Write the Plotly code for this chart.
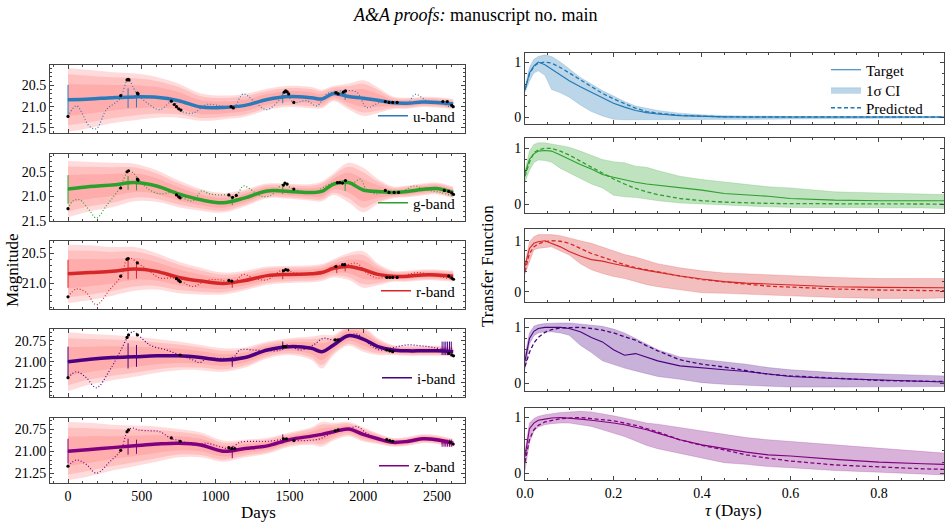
import plotly.graph_objects as go

W, H = 951, 526
SERIF = "Liberation Serif"

# ---------------- light-curve panels (left) ----------------
knot_days = [0, 150, 300, 450, 600, 750, 900, 1050, 1200, 1350, 1500, 1650,
             1720, 1800, 1900, 2000, 2100, 2200, 2300, 2400, 2500, 2610]

u_mean = [20.84, 20.82, 20.79, 20.77, 20.78, 20.86, 21.01, 21.02, 20.97, 20.83, 20.76, 20.79,
          20.82, 20.69, 20.76, 20.80, 20.85, 20.91, 20.92, 20.89, 20.90, 20.94]
u_sig = [0.75, 0.68, 0.60, 0.55, 0.48, 0.40, 0.32, 0.28, 0.27, 0.25, 0.25, 0.25,
         0.22, 0.18, 0.30, 0.42, 0.30, 0.15, 0.13, 0.12, 0.12, 0.12]
g_mean = [20.85, 20.80, 20.77, 20.72, 20.79, 20.95, 21.07, 21.13, 21.03, 20.89, 20.90, 20.92,
          20.90, 20.75, 20.72, 20.87, 20.90, 20.92, 20.90, 20.86, 20.84, 20.92]
g_sig = [0.57, 0.50, 0.45, 0.38, 0.32, 0.27, 0.22, 0.20, 0.17, 0.15, 0.15, 0.17,
         0.20, 0.22, 0.40, 0.45, 0.25, 0.12, 0.12, 0.12, 0.12, 0.12]
r_mean = [20.84, 20.82, 20.80, 20.76, 20.80, 20.90, 20.96, 21.00, 20.95, 20.87, 20.85, 20.84,
          20.82, 20.75, 20.72, 20.77, 20.85, 20.88, 20.88, 20.86, 20.86, 20.88]
r_sig = [0.48, 0.45, 0.40, 0.36, 0.30, 0.26, 0.22, 0.18, 0.16, 0.15, 0.14, 0.14,
         0.14, 0.15, 0.22, 0.30, 0.18, 0.09, 0.09, 0.09, 0.09, 0.09]
i_mean = [21.00, 20.97, 20.95, 20.94, 20.93, 20.93, 20.95, 20.98, 20.95, 20.86, 20.82, 20.84,
          20.88, 20.80, 20.69, 20.73, 20.82, 20.86, 20.87, 20.87, 20.87, 20.88]
i_sig = [0.35, 0.30, 0.27, 0.24, 0.20, 0.17, 0.15, 0.14, 0.12, 0.10, 0.10, 0.14,
         0.20, 0.12, 0.12, 0.15, 0.10, 0.06, 0.06, 0.06, 0.06, 0.06]
z_mean = [21.00, 20.98, 20.96, 20.94, 20.92, 20.91, 20.93, 21.00, 20.97, 20.94, 20.87, 20.83,
          20.81, 20.78, 20.75, 20.81, 20.86, 20.90, 20.89, 20.86, 20.87, 20.91]
z_sig = [0.33, 0.30, 0.26, 0.23, 0.20, 0.16, 0.14, 0.12, 0.10, 0.09, 0.08, 0.10,
         0.14, 0.10, 0.08, 0.08, 0.06, 0.05, 0.05, 0.05, 0.05, 0.05]

u_true_days = [0, 57, 147, 192, 260, 350, 407, 464, 532, 622, 712, 758, 848, 939, 1029, 1120, 1188,
               1256, 1346, 1437, 1470, 1527, 1618, 1686, 1753, 1799, 1889, 1957, 2025, 2115, 2206,
               2296, 2353, 2432, 2523, 2590]
u_true_mag = [21.23, 20.98, 21.47, 21.52, 21.07, 20.82, 20.37, 20.68, 20.90, 21.07, 20.86, 21.09,
              21.15, 20.95, 20.98, 21.02, 20.70, 20.86, 21.07, 20.82, 20.63, 20.90, 20.86, 20.98,
              20.70, 20.66, 20.62, 20.66, 21.02, 20.90, 20.90, 20.94, 20.71, 20.86, 20.90, 21.02]
g_true_days = [0, 34, 79, 147, 192, 260, 350, 407, 441, 475, 543, 622, 712, 769, 848, 905, 961,
               1029, 1097, 1120, 1188, 1233, 1301, 1369, 1459, 1505, 1572, 1663, 1731, 1799, 1867,
               1934, 1980, 2025, 2093, 2160, 2251, 2342, 2432, 2523, 2602]
g_true_mag = [21.25, 21.09, 21.07, 21.29, 21.44, 21.19, 20.83, 20.50, 20.52, 20.65, 20.85, 20.95,
              20.92, 21.02, 21.09, 20.89, 20.95, 20.97, 20.99, 21.12, 20.79, 20.85, 20.99, 20.99,
              20.75, 20.82, 20.89, 20.92, 20.82, 20.72, 20.69, 20.72, 20.65, 20.87, 20.95, 20.89,
              20.92, 20.79, 20.87, 20.92, 20.99]
r_true_days = [0, 57, 124, 192, 283, 362, 400, 430, 475, 532, 622, 712, 769, 848, 939, 1029, 1120,
               1188, 1256, 1346, 1459, 1527, 1640, 1731, 1799, 1889, 1957, 2025, 2093, 2160, 2251,
               2364, 2477, 2590]
r_true_mag = [21.22, 21.09, 21.15, 21.35, 21.10, 20.87, 20.60, 20.59, 20.67, 20.76, 20.91, 20.91,
              20.97, 21.05, 20.95, 20.94, 20.99, 20.85, 20.91, 20.94, 20.77, 20.82, 20.85, 20.83,
              20.72, 20.69, 20.67, 20.83, 20.91, 20.89, 20.89, 20.82, 20.87, 20.92]
i_true_days = [0, 57, 124, 192, 283, 350, 407, 441, 475, 554, 667, 758, 848, 894, 939, 1029, 1120,
               1165, 1256, 1346, 1437, 1482, 1572, 1663, 1731, 1799, 1889, 1957, 2047, 2115, 2206,
               2296, 2387, 2477, 2590]
i_true_mag = [21.19, 21.12, 21.19, 21.31, 21.10, 20.89, 20.70, 20.64, 20.68, 20.80, 20.86, 20.92,
              20.98, 21.01, 20.96, 20.96, 20.95, 20.86, 20.86, 20.87, 20.86, 20.80, 20.86, 20.80,
              20.72, 20.74, 20.70, 20.67, 20.80, 20.86, 20.83, 20.80, 20.81, 20.83, 20.88]
z_true_days = [0, 57, 124, 192, 283, 357, 407, 441, 475, 554, 622, 701, 758, 848, 939, 1029, 1097,
               1165, 1256, 1346, 1459, 1527, 1618, 1708, 1799, 1889, 1957, 2025, 2115, 2206, 2296,
               2387, 2477, 2590]
z_true_mag = [21.17, 21.10, 21.15, 21.25, 21.12, 20.99, 20.76, 20.74, 20.76, 20.77, 20.78, 20.86,
              20.88, 20.93, 20.91, 20.95, 20.97, 20.90, 20.89, 20.89, 20.87, 20.88, 20.88, 20.86,
              20.79, 20.76, 20.72, 20.80, 20.87, 20.89, 20.88, 20.86, 20.88, 20.91]

u_obs_days = [0, 357, 400, 408, 413, 470, 475, 700, 720, 735, 750, 765, 1105, 1120, 1465, 1475,
              1485, 1495, 1530, 1815, 1830, 1865, 1880, 2150, 2175, 2200, 2230, 2540, 2570, 2600, 2610]
u_obs_mag = [21.23, 20.74, 20.37, 20.36, 20.37, 20.68, 20.70, 20.87, 20.95, 21.00, 21.05, 21.08,
             21.00, 21.03, 20.66, 20.63, 20.65, 20.70, 20.90, 20.67, 20.70, 20.66, 20.63, 20.88,
             20.90, 20.90, 20.90, 20.88, 20.88, 20.97, 21.00]
g_obs_days = [0, 357, 400, 410, 470, 475, 735, 750, 760, 1090, 1115, 1140, 1460, 1470, 1485, 1530,
              1825, 1840, 1860, 1880, 2150, 2175, 2210, 2240, 2550, 2580, 2600, 2612]
g_obs_mag = [21.25, 20.83, 20.50, 20.48, 20.65, 20.67, 20.97, 21.01, 21.03, 20.97, 21.02, 20.98,
             20.77, 20.73, 20.75, 20.85, 20.72, 20.72, 20.73, 20.68, 20.88, 20.92, 20.92, 20.92,
             20.88, 20.90, 20.93, 20.96]
r_obs_days = [0, 357, 400, 408, 470, 735, 750, 760, 1090, 1110, 1460, 1475, 1490, 1815, 1860, 1875,
              2160, 2180, 2200, 2230, 2580, 2600, 2612]
r_obs_mag = [21.22, 20.88, 20.60, 20.59, 20.66, 20.92, 20.95, 20.97, 20.95, 20.96, 20.79, 20.77,
             20.78, 20.72, 20.69, 20.69, 20.90, 20.90, 20.90, 20.90, 20.88, 20.91, 20.93]
i_obs_days = [0, 400, 410, 470, 760, 1460, 1475, 1810, 1830, 2160, 2180, 2200, 2580, 2600, 2612]
i_obs_mag = [21.19, 20.71, 20.68, 20.68, 20.92, 20.82, 20.82, 20.74, 20.74, 20.86, 20.87, 20.88,
             20.90, 20.92, 20.93]
z_obs_days = [0, 357, 400, 410, 700, 760, 1090, 1110, 1130, 1460, 1480, 1530, 1810, 1830, 2160,
              2180, 2200, 2590, 2610]
z_obs_mag = [21.17, 20.99, 20.78, 20.76, 20.85, 20.89, 20.96, 20.97, 20.97, 20.86, 20.86, 20.88,
             20.77, 20.76, 20.87, 20.88, 20.89, 20.90, 20.92]

u_err_days = [0, 407, 464, 1455, 1878]
u_err_mag = [20.84, 20.80, 20.86, 20.80, 20.73]
u_err_half = [0.35, 0.23, 0.16, 0.12, 0.11]
g_err_days = [0, 407, 464, 1113, 1455, 1878]
g_err_mag = [20.86, 20.73, 20.75, 21.10, 20.87, 20.77]
g_err_half = [0.29, 0.14, 0.13, 0.08, 0.08, 0.12]
r_err_days = [0, 407, 464, 1113, 1455, 1821, 1878]
r_err_mag = [20.84, 20.77, 20.78, 21.02, 20.85, 20.76, 20.73]
r_err_half = [0.23, 0.16, 0.14, 0.05, 0.08, 0.07, 0.07]
i_err_days = [0, 407, 464, 1113, 1455, 2535, 2548, 2560, 2572, 2585, 2597]
i_err_mag = [21.00, 20.93, 20.93, 21.00, 20.81, 20.84, 20.84, 20.84, 20.84, 20.84, 20.84]
i_err_half = [0.18, 0.15, 0.13, 0.06, 0.05, 0.08, 0.08, 0.08, 0.08, 0.08, 0.08]
z_err_days = [0, 407, 464, 1113, 1455, 2535, 2548, 2560, 2572, 2585, 2597]
z_err_mag = [21.00, 20.95, 20.95, 21.01, 20.86, 20.91, 20.91, 20.91, 20.91, 20.91, 20.91]
z_err_half = [0.14, 0.09, 0.08, 0.07, 0.05, 0.04, 0.04, 0.04, 0.04, 0.04, 0.04]

band_labels = ["u-band", "g-band", "r-band", "i-band", "z-band"]
band_colors = ["#2b7bba", "#2ca02c", "#d62728", "#4b0082", "#800080"]
mag_ranges = [[21.62, 20.02], [21.5, 20.14], [21.42, 20.30], [21.42, 20.61], [21.36, 20.625]]
mag_dticks = [0.5, 0.5, 0.5, 0.25, 0.25]
mag_fmt = [".1f", ".1f", ".1f", ".2f", ".2f"]

# ---------------- transfer functions (right) ----------------
tau = [0, 0.01, 0.02, 0.03, 0.045, 0.06, 0.08, 0.1, 0.125, 0.15, 0.175, 0.2, 0.225, 0.25,
       0.275, 0.3, 0.35, 0.4, 0.45, 0.5, 0.55, 0.6, 0.7, 0.8, 0.9, 0.95]

u_target = [0.49, 0.80, 0.93, 1.00, 0.95, 0.87, 0.77, 0.66, 0.55, 0.45, 0.35, 0.25, 0.18, 0.12,
            0.08, 0.055, 0.025, 0.008, 0.003, 0, 0, 0, 0, 0, 0, 0]
u_pred = [0.50, 0.78, 0.92, 0.98, 1.00, 0.98, 0.90, 0.80, 0.67, 0.55, 0.43, 0.33, 0.24, 0.16,
          0.10, 0.07, 0.03, 0.01, 0.003, 0, 0, 0, 0, 0, 0, 0]
u_hi = [0.55, 0.90, 1.05, 1.10, 1.13, 1.10, 1.00, 0.87, 0.72, 0.60, 0.48, 0.38, 0.28, 0.20,
        0.16, 0.12, 0.07, 0.04, 0.025, 0.018, 0.012, 0.01, 0.008, 0.006, 0.005, 0.005]
u_lo = [0.45, 0.65, 0.80, 0.84, 0.76, 0.50, 0.44, 0.36, 0.22, 0.10, 0.02, -0.04, -0.05, -0.05,
        -0.045, -0.045, -0.05, -0.05, -0.05, -0.045, -0.04, -0.035, -0.03, -0.025, -0.02, -0.015]

g_target = [0.55, 0.80, 0.90, 0.95, 0.96, 0.95, 0.88, 0.80, 0.71, 0.63, 0.53, 0.48, 0.43, 0.39,
            0.36, 0.34, 0.30, 0.25, 0.19, 0.17, 0.14, 0.10, 0.07, 0.06, 0.06, 0.06]
g_pred = [0.50, 0.75, 0.92, 0.97, 1.00, 1.00, 0.95, 0.88, 0.77, 0.66, 0.55, 0.45, 0.36, 0.28,
          0.22, 0.17, 0.10, 0.06, 0.035, 0.02, 0.012, 0.008, 0.004, 0.002, 0.001, 0]
g_hi = [0.60, 0.95, 1.07, 1.10, 1.10, 1.08, 1.05, 1.02, 0.95, 0.87, 0.80, 0.76, 0.74, 0.68,
        0.66, 0.60, 0.50, 0.44, 0.40, 0.36, 0.31, 0.29, 0.22, 0.20, 0.18, 0.17]
g_lo = [0.40, 0.60, 0.74, 0.79, 0.78, 0.75, 0.64, 0.56, 0.46, 0.36, 0.29, 0.16, 0.13, 0.12,
        0.09, 0.06, 0.02, 0.0, -0.02, -0.04, -0.05, -0.06, -0.06, -0.07, -0.07, -0.08]

r_target = [0.50, 0.85, 0.95, 0.98, 1.00, 0.95, 0.88, 0.79, 0.70, 0.63, 0.60, 0.55, 0.50, 0.46,
            0.42, 0.38, 0.31, 0.25, 0.20, 0.17, 0.15, 0.13, 0.10, 0.087, 0.08, 0.08]
r_pred = [0.40, 0.75, 0.88, 0.94, 0.98, 1.00, 0.99, 0.95, 0.85, 0.75, 0.68, 0.60, 0.53, 0.47,
          0.43, 0.38, 0.31, 0.24, 0.19, 0.15, 0.11, 0.09, 0.055, 0.035, 0.022, 0.02]
r_hi = [0.55, 0.98, 1.08, 1.12, 1.12, 1.12, 1.10, 1.05, 1.00, 0.95, 0.88, 0.80, 0.73, 0.68,
        0.62, 0.55, 0.47, 0.41, 0.37, 0.35, 0.34, 0.32, 0.28, 0.26, 0.26, 0.26]
r_lo = [0.35, 0.60, 0.82, 0.85, 0.87, 0.88, 0.80, 0.72, 0.55, 0.43, 0.36, 0.30, 0.26, 0.20,
        0.14, 0.10, 0.04, -0.02, -0.03, -0.05, -0.07, -0.08, -0.11, -0.13, -0.13, -0.12]

i_target = [0.40, 0.80, 0.93, 0.98, 1.00, 1.00, 1.00, 0.98, 0.92, 0.82, 0.74, 0.60, 0.50, 0.53,
            0.47, 0.40, 0.31, 0.27, 0.24, 0.21, 0.17, 0.12, 0.085, 0.06, 0.04, 0.02]
i_pred = [0.30, 0.55, 0.72, 0.82, 0.91, 0.96, 0.99, 1.00, 1.00, 0.98, 0.95, 0.90, 0.84, 0.77,
          0.67, 0.58, 0.42, 0.34, 0.29, 0.23, 0.16, 0.13, 0.085, 0.05, 0.035, 0.03]
i_hi = [0.50, 0.90, 1.02, 1.05, 1.07, 1.08, 1.08, 1.08, 1.06, 1.05, 1.02, 0.97, 0.90, 0.80,
        0.70, 0.60, 0.47, 0.43, 0.38, 0.34, 0.28, 0.24, 0.19, 0.17, 0.14, 0.13]
i_lo = [0.25, 0.70, 0.85, 0.90, 0.92, 0.92, 0.90, 0.86, 0.68, 0.55, 0.40, 0.33, 0.27, 0.22,
        0.17, 0.12, 0.07, 0.01, -0.02, -0.04, -0.06, -0.07, -0.07, -0.07, -0.07, -0.06]

z_target = [0.30, 0.80, 0.90, 0.95, 0.97, 0.99, 1.00, 0.99, 0.97, 0.95, 0.93, 0.90, 0.87, 0.83,
            0.78, 0.72, 0.60, 0.51, 0.44, 0.38, 0.33, 0.31, 0.25, 0.20, 0.17, 0.16]
z_pred = [0.20, 0.60, 0.78, 0.86, 0.92, 0.95, 0.98, 0.99, 1.00, 0.98, 0.96, 0.94, 0.90, 0.86,
          0.80, 0.74, 0.60, 0.50, 0.42, 0.33, 0.27, 0.22, 0.15, 0.11, 0.08, 0.07]
z_hi = [0.40, 0.90, 0.98, 1.02, 1.05, 1.07, 1.09, 1.10, 1.11, 1.10, 1.07, 1.03, 0.99, 0.95,
        0.90, 0.88, 0.82, 0.76, 0.70, 0.64, 0.60, 0.57, 0.51, 0.45, 0.39, 0.36]
z_lo = [0.05, 0.55, 0.75, 0.83, 0.87, 0.89, 0.90, 0.90, 0.87, 0.84, 0.78, 0.72, 0.66, 0.58,
        0.50, 0.44, 0.36, 0.27, 0.19, 0.16, 0.12, 0.10, 0.05, 0.02, -0.01, -0.03]

tf_fills = ["rgba(31,119,180,0.30)", "rgba(44,160,44,0.30)", "rgba(214,39,40,0.30)",
            "rgba(75,0,130,0.30)", "rgba(128,0,128,0.30)"]
tf_colors = ["#1f77b4", "#2ca02c", "#d62728", "#4b0082", "#800080"]
tf_ranges = [[-0.127, 1.164], [-0.16, 1.185], [-0.2, 1.23], [-0.14, 1.15], [-0.12, 1.17]]

LC = {
    "u": (u_mean, u_sig, u_true_days, u_true_mag, u_obs_days, u_obs_mag, u_err_days, u_err_mag, u_err_half),
    "g": (g_mean, g_sig, g_true_days, g_true_mag, g_obs_days, g_obs_mag, g_err_days, g_err_mag, g_err_half),
    "r": (r_mean, r_sig, r_true_days, r_true_mag, r_obs_days, r_obs_mag, r_err_days, r_err_mag, r_err_half),
    "i": (i_mean, i_sig, i_true_days, i_true_mag, i_obs_days, i_obs_mag, i_err_days, i_err_mag, i_err_half),
    "z": (z_mean, z_sig, z_true_days, z_true_mag, z_obs_days, z_obs_mag, z_err_days, z_err_mag, z_err_half),
}
TF = {
    "u": (u_target, u_pred, u_hi, u_lo),
    "g": (g_target, g_pred, g_hi, g_lo),
    "r": (r_target, r_pred, r_hi, r_lo),
    "i": (i_target, i_pred, i_hi, i_lo),
    "z": (z_target, z_pred, z_hi, z_lo),
}

# ---------------- layout geometry (pixels) ----------------
left_x = (50, 465)
right_x = (525, 944)
left_y = [(65, 133), (154, 221), (241, 309), (329, 397), (418, 483)]
right_y = [(53, 124), (138, 213), (229, 302), (319, 391), (408, 480)]
legend_yc = [116, 203, 291, 378, 466]
tf_legend_yc = {"legend": 70, "legend7": 90, "legend8": 108}

def xdom(a):
    return [a[0] / W, a[1] / W]

def ydom(a):
    return [1 - a[1] / H, 1 - a[0] / H]

AX = dict(showline=True, linecolor="#444", linewidth=1, mirror="allticks", ticks="inside",
          ticklen=4, tickwidth=1, tickcolor="#444", showgrid=False, zeroline=False, automargin=False,
          tickfont=dict(family=SERIF, size=14, color="black"))

fig = go.Figure()
layout = {}
band_fracs = [1.0, 0.8, 0.5]
pink = "rgba(255,110,110,0.25)"

for k, b in enumerate(["u", "g", "r", "i", "z"]):
    n = k + 1
    xa, ya = ("x" if n == 1 else f"x{n}"), ("y" if n == 1 else f"y{n}")
    mean, sig, td, tm, od, om, ed, em, eh = LC[b]
    col = band_colors[k]
    for f in band_fracs:
        hi = [m - f * s for m, s in zip(mean, sig)]
        lo = [m + f * s for m, s in zip(mean, sig)]
        fig.add_trace(go.Scatter(x=knot_days, y=hi, mode="lines", line=dict(width=0, shape="spline"),
                                 xaxis=xa, yaxis=ya, showlegend=False, hoverinfo="skip"))
        fig.add_trace(go.Scatter(x=knot_days, y=lo, mode="lines", line=dict(width=0, shape="spline"),
                                 fill="tonexty", fillcolor=pink, xaxis=xa, yaxis=ya,
                                 showlegend=False, hoverinfo="skip"))
    fig.add_trace(go.Scatter(x=td, y=tm, mode="lines",
                             line=dict(color=col, width=1.2, dash="1px,2px", shape="spline"),
                             xaxis=xa, yaxis=ya, showlegend=False))
    fig.add_trace(go.Scatter(x=knot_days, y=mean, mode="lines", line=dict(color=col, width=3.5, shape="spline"),
                             xaxis=xa, yaxis=ya, showlegend=False))
    fig.add_trace(go.Scatter(x=ed, y=em, mode="markers", marker=dict(size=1, color=col),
                             error_y=dict(type="data", array=eh, visible=True, color=col, thickness=1, width=0),
                             xaxis=xa, yaxis=ya, showlegend=False))
    fig.add_trace(go.Scatter(x=od, y=om, mode="markers", marker=dict(size=3.2, color="black"),
                             xaxis=xa, yaxis=ya, showlegend=False))
    lg = f"legend{n + 1}"
    fig.add_trace(go.Scatter(x=[None], y=[None], mode="lines", line=dict(color=col, width=1.5),
                             name=band_labels[k], xaxis=xa, yaxis=ya, legend=lg, showlegend=True))
    layout[lg] = dict(x=(left_x[1] - 4) / W, xanchor="right", y=1 - legend_yc[k] / H, yanchor="middle",
                      bgcolor="rgba(0,0,0,0)", font=dict(family=SERIF, size=15, color="black"),
                      itemwidth=30, tracegroupgap=0)

    xkey = "xaxis" if n == 1 else f"xaxis{n}"
    ykey = "yaxis" if n == 1 else f"yaxis{n}"
    layout[xkey] = dict(AX, domain=xdom(left_x), anchor=ya, range=[-122, 2690], tick0=0, dtick=500,
                        showticklabels=(n == 5), minor=dict(ticks="inside", ticklen=2, tickcolor="#444", dtick=100))
    layout[ykey] = dict(AX, domain=ydom(left_y[k]), anchor=xa, range=mag_ranges[k], tick0=20, dtick=mag_dticks[k],
                        tickformat=mag_fmt[k],
                        minor=dict(ticks="inside", ticklen=2, tickcolor="#444", dtick=mag_dticks[k] / 5))

for k, b in enumerate(["u", "g", "r", "i", "z"]):
    n = k + 6
    xa, ya = f"x{n}", f"y{n}"
    tgt, prd, hi, lo = TF[b]
    col = tf_colors[k]
    show = (k == 0)
    fig.add_trace(go.Scatter(x=tau, y=hi, mode="lines", line=dict(width=0.6, color=tf_fills[k]),
                             xaxis=xa, yaxis=ya, showlegend=False, hoverinfo="skip"))
    fig.add_trace(go.Scatter(x=tau, y=lo, mode="lines", line=dict(width=0.6, color=tf_fills[k]),
                             fill="tonexty", fillcolor=tf_fills[k], name="1σ CI", legend="legend7",
                             xaxis=xa, yaxis=ya, showlegend=show))
    fig.add_trace(go.Scatter(x=tau, y=tgt, mode="lines", line=dict(color=col, width=1.1),
                             name="Target", legend="legend", xaxis=xa, yaxis=ya, showlegend=show))
    fig.add_trace(go.Scatter(x=tau, y=prd, mode="lines", line=dict(color=col, width=1.3, dash="4px,2.5px"),
                             name="Predicted", legend="legend8", xaxis=xa, yaxis=ya, showlegend=show))
    layout[f"xaxis{n}"] = dict(AX, domain=xdom(right_x), anchor=ya, range=[0, 0.947], tick0=0, dtick=0.2,
                               tickformat=".1f", showticklabels=(n == 10),
                               minor=dict(ticks="inside", ticklen=2, tickcolor="#444", dtick=0.05))
    layout[f"yaxis{n}"] = dict(AX, domain=ydom(right_y[k]), anchor=xa, range=tf_ranges[k], tickvals=[0, 1],
                               ticktext=["0", "1"],
                               minor=dict(ticks="inside", ticklen=2, tickcolor="#444", tickvals=[0.2, 0.4, 0.6, 0.8]))

for lg, yc in tf_legend_yc.items():
    layout[lg] = dict(x=826 / W, xanchor="left", y=1 - yc / H, yanchor="middle",
                      bgcolor="rgba(0,0,0,0)", font=dict(family=SERIF, size=15, color="black"),
                      itemwidth=30, tracegroupgap=0)

ann = [
    dict(text="<i>A&amp;A proofs:</i> manuscript no. main", x=475 / W, y=1 - 15 / H, xref="paper", yref="paper",
         showarrow=False, font=dict(family=SERIF, size=18, color="black"), xanchor="center", yanchor="middle"),
    dict(text="Magnitude", x=12 / W, y=1 - 270 / H, xref="paper", yref="paper", textangle=-90,
         showarrow=False, font=dict(family=SERIF, size=17, color="black"), xanchor="center", yanchor="middle"),
    dict(text="Days", x=258 / W, y=1 - 512 / H, xref="paper", yref="paper",
         showarrow=False, font=dict(family=SERIF, size=17, color="black"), xanchor="center", yanchor="middle"),
    dict(text="Transfer Function", x=487 / W, y=1 - 266 / H, xref="paper", yref="paper", textangle=-90,
         showarrow=False, font=dict(family=SERIF, size=17, color="black"), xanchor="center", yanchor="middle"),
    dict(text="<i>τ</i> (Days)", x=733 / W, y=1 - 510 / H, xref="paper", yref="paper",
         showarrow=False, font=dict(family=SERIF, size=17, color="black"), xanchor="center", yanchor="middle"),
]

fig.update_layout(width=W, height=H, margin=dict(l=0, r=0, t=0, b=0, autoexpand=False), paper_bgcolor="white",
                  plot_bgcolor="white", annotations=ann, **layout)
fig.write_html("out.html")
